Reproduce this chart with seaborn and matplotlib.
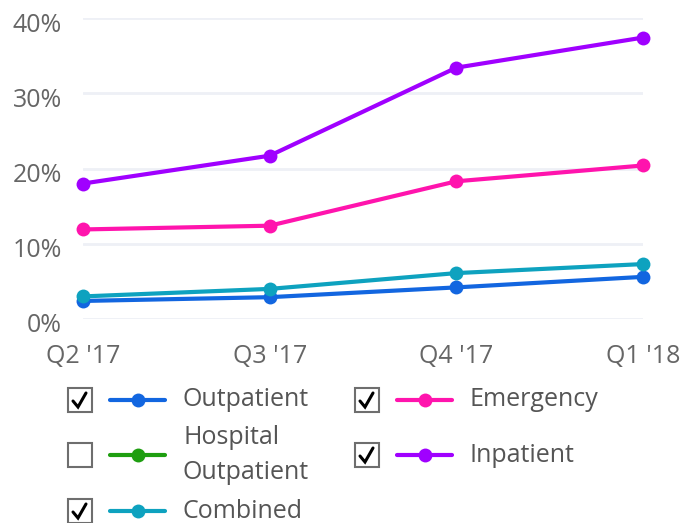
import matplotlib
matplotlib.use("Agg")
import matplotlib.pyplot as plt
import matplotlib.transforms as mtransforms
from matplotlib.lines import Line2D
from matplotlib.patches import Rectangle
import seaborn as sns
import pandas as pd

quarters = ["Q2 '17", "Q3 '17", "Q4 '17", "Q1 '18"]
outpatient = [2.4, 2.9, 4.2, 5.6]
combined = [3.0, 4.0, 6.1, 7.3]
emergency = [11.9, 12.4, 18.3, 20.4]
inpatient = [18.0, 21.7, 33.4, 37.4]
y_ticks = [0, 10, 20, 30, 40]
y_tick_labels = ["0%", "10%", "20%", "30%", "40%"]

series_names = ["Outpatient", "Combined", "Emergency", "Inpatient"]
series_values = [outpatient, combined, emergency, inpatient]
colors = {"Outpatient": "#1266E0", "Hospital Outpatient": "#1E9E10",
          "Combined": "#0EA2BF", "Emergency": "#FF14AD", "Inpatient": "#A000FF"}

rows = []
for name, vals in zip(series_names, series_values):
    for i, (q, v) in enumerate(zip(quarters, vals)):
        rows.append({"quarter": i, "label": q, "series": name, "value": v})
df = pd.DataFrame(rows)

sns.set_theme(style="white")
plt.rcParams["font.family"] = ["Open Sans", "DejaVu Sans"]

W, H = 686, 523
FS = 18
fig = plt.figure(figsize=(W / 100, H / 100), dpi=100)
ax = fig.add_axes([83 / W, 1 - 319 / H, (643 - 83) / W, (319 - 18) / H])

for yt in y_ticks:
    ax.axhline(yt, color="#EEF0F6", lw=2, zorder=0)

sns.lineplot(data=df, x="quarter", y="value", hue="series",
             hue_order=series_names, palette=colors, marker="o",
             markersize=10, markeredgewidth=0, linewidth=3, legend=False,
             ax=ax, clip_on=False, zorder=3)

ax.set_xlim(0, 3)
ax.set_ylim(0, 40)
ax.set_xticks(range(len(quarters)))
ax.set_xticklabels(quarters)
ax.set_yticks(y_ticks)
ax.set_yticklabels(y_tick_labels)
ax.tick_params(axis="y", length=0, pad=15, labelsize=FS, labelcolor="#666666")
ax.tick_params(axis="x", length=0, pad=18, labelsize=FS, labelcolor="#666666")
shift = mtransforms.ScaledTranslation(0, -4 / 100, fig.dpi_scale_trans)
for lbl in ax.get_yticklabels():
    lbl.set_transform(lbl.get_transform() + shift)
ax.set_xlabel("")
ax.set_ylabel("")
for s in ax.spines.values():
    s.set_visible(False)


def fx(px):
    return px / W


def fy(py):
    return 1 - py / H


legend_items = [
    ("Outpatient", 68, 400, True),
    ("Hospital\nOutpatient", 68, 455, False),
    ("Combined", 68, 511, True),
    ("Emergency", 355, 400, True),
    ("Inpatient", 355, 455, True),
]
for name, x0, yc, checked in legend_items:
    key = name.replace("\n", " ")
    fig.add_artist(Rectangle((fx(x0), fy(yc + 12)), 24 / W, 24 / H,
                             transform=fig.transFigure, fill=False,
                             edgecolor="#6E6E6E", lw=1.5))
    if checked:
        fig.add_artist(Line2D([fx(x0 + 5), fx(x0 + 10), fx(x0 + 18)],
                              [fy(yc + 1), fy(yc + 7), fy(yc - 7)],
                              transform=fig.transFigure, color="black",
                              lw=2.2, solid_joinstyle="miter"))
    fig.add_artist(Line2D([fx(x0 + 42), fx(x0 + 97)], [fy(yc), fy(yc)],
                          transform=fig.transFigure, color=colors[key], lw=3))
    fig.add_artist(Line2D([fx(x0 + 70)], [fy(yc)], transform=fig.transFigure,
                          color=colors[key], marker="o", markersize=10,
                          markeredgewidth=0))
    fig.text(fx(x0 + 115), fy(yc), name, ha="left", va="center",
             fontsize=FS, color="#555555", linespacing=1.5)

fig.savefig("out.png", dpi=100)
